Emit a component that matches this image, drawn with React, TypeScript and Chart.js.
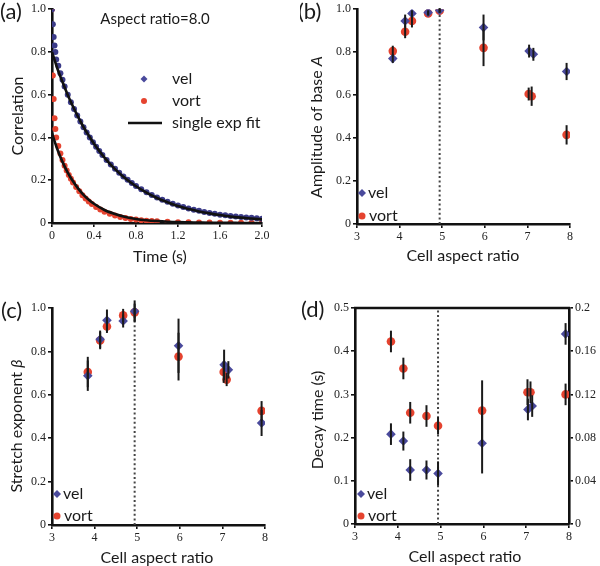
import React, { useEffect, useRef } from 'react';
import { Chart, registerables } from 'chart.js';
Chart.register(...registerables);

// ---------- Panel (a): correlation vs time ----------
const timeVel = [0, 0.008, 0.016, 0.024, 0.032, 0.04, 0.06, 0.08, 0.1, 0.12, 0.15, 0.18, 0.21, 0.24, 0.27, 0.3, 0.33, 0.36, 0.39, 0.42, 0.45, 0.48, 0.52, 0.56, 0.6, 0.64, 0.68, 0.72, 0.76, 0.8, 0.85, 0.9, 0.95, 1.0, 1.05, 1.1, 1.15, 1.2, 1.25, 1.3, 1.35, 1.4, 1.45, 1.5, 1.55, 1.6, 1.65, 1.7, 1.75, 1.8, 1.85, 1.9, 1.95, 2.0];
const corrVel = [1.0, 0.93, 0.87, 0.83, 0.8, 0.765, 0.735, 0.7, 0.67, 0.638, 0.6, 0.565, 0.533, 0.503, 0.475, 0.448, 0.423, 0.4, 0.378, 0.357, 0.337, 0.318, 0.295, 0.274, 0.254, 0.235, 0.218, 0.202, 0.187, 0.173, 0.158, 0.144, 0.131, 0.119, 0.109, 0.099, 0.09, 0.082, 0.075, 0.068, 0.062, 0.057, 0.052, 0.047, 0.043, 0.039, 0.036, 0.033, 0.03, 0.028, 0.026, 0.024, 0.022, 0.02];
const timeVort = [0, 0.008, 0.016, 0.024, 0.032, 0.04, 0.06, 0.08, 0.1, 0.12, 0.14, 0.16, 0.18, 0.2, 0.23, 0.26, 0.29, 0.32, 0.35, 0.38, 0.42, 0.46, 0.5, 0.55, 0.6, 0.65, 0.7, 0.75, 0.8, 0.85, 0.9, 0.95, 1.0, 1.1, 1.2, 1.3, 1.4, 1.5, 1.6, 1.7, 1.8, 1.9, 2.0];
const corrVort = [1.0, 0.69, 0.58, 0.49, 0.44, 0.4, 0.36, 0.325, 0.295, 0.268, 0.245, 0.225, 0.207, 0.19, 0.168, 0.148, 0.13, 0.115, 0.101, 0.089, 0.075, 0.063, 0.053, 0.043, 0.035, 0.028, 0.023, 0.019, 0.016, 0.013, 0.011, 0.009, 0.008, 0.006, 0.004, 0.003, 0.002, 0.002, 0.001, 0.001, 0.001, 0.001, 0.001];
const fitTime = [0, 0.05, 0.1, 0.15, 0.2, 0.25, 0.3, 0.35, 0.4, 0.5, 0.6, 0.7, 0.8, 0.9, 1.0, 1.1, 1.2, 1.3, 1.4, 1.5, 1.6, 1.7, 1.8, 1.9, 2.0];
const fitVel = [0.8, 0.724, 0.66, 0.599, 0.545, 0.495, 0.449, 0.409, 0.371, 0.306, 0.252, 0.208, 0.172, 0.142, 0.117, 0.097, 0.079, 0.066, 0.054, 0.045, 0.037, 0.03, 0.025, 0.021, 0.017];
const fitVort = [0.42, 0.346, 0.286, 0.236, 0.195, 0.161, 0.132, 0.109, 0.09, 0.061, 0.042, 0.028, 0.019, 0.013, 0.009, 0.006, 0.004, 0.003, 0.002, 0.001, 0.001, 0.001, 0.0, 0.0, 0.0];
const timeTicks = [0, 0.4, 0.8, 1.2, 1.6, 2.0];
const timeTickLabels = ['0', '0.4', '0.8', '1.2', '1.6', '2.0'];
const unitTicks = [0, 0.2, 0.4, 0.6, 0.8, 1.0];
const unitTickLabels = ['0', '0.2', '0.4', '0.6', '0.8', '1.0'];

// ---------- Panels (b)-(d): vs cell aspect ratio ----------
const aspectVel = [3.84, 4.13, 4.29, 4.67, 4.94, 5.97, 7.04, 7.14, 7.92];
const aspectVort = [3.84, 4.13, 4.29, 4.67, 4.94, 5.97, 7.03, 7.1, 7.92];
const aspectTicks = [3, 4, 5, 6, 7, 8];
const aspectTickLabels = ['3', '4', '5', '6', '7', '8'];
const transitionAspect = 4.94;

const ampVel = [0.77, 0.945, 0.98, 0.985, 0.995, 0.915, 0.805, 0.79, 0.71];
const ampVelErr = [0.02, 0.03, 0.015, 0.01, 0.01, 0.06, 0.03, 0.03, 0.04];
const ampVort = [0.805, 0.895, 0.945, 0.98, 0.993, 0.82, 0.605, 0.595, 0.415];
const ampVortErr = [0.025, 0.03, 0.03, 0.01, 0.01, 0.085, 0.03, 0.045, 0.045];

const betaVel = [0.688, 0.856, 0.943, 0.94, 0.985, 0.826, 0.738, 0.715, 0.47];
const betaVelErr = [0.07, 0.04, 0.05, 0.03, 0.05, 0.125, 0.07, 0.04, 0.06];
const betaVort = [0.705, 0.85, 0.915, 0.966, 0.98, 0.776, 0.705, 0.67, 0.526];
const betaVortErr = [0.07, 0.04, 0.03, 0.03, 0.04, 0.11, 0.05, 0.03, 0.045];

const tauVel = [0.208, 0.192, 0.125, 0.125, 0.117, 0.187, 0.265, 0.273, 0.44];
const tauVelErr = [0.025, 0.022, 0.025, 0.022, 0.028, 0.07, 0.025, 0.025, 0.025];
const tauVort = [0.169, 0.144, 0.103, 0.1, 0.091, 0.105, 0.122, 0.122, 0.12];
const tauVortErr = [0.01, 0.01, 0.01, 0.01, 0.008, 0.028, 0.012, 0.01, 0.01];
const tauTicks = [0, 0.1, 0.2, 0.3, 0.4, 0.5];
const tauTickLabels = ['0', '0.1', '0.2', '0.3', '0.4', '0.5'];
const tauRightTicks = [0, 0.04, 0.08, 0.12, 0.16, 0.2];
const tauRightTickLabels = ['0', '0.04', '0.08', '0.12', '0.16', '0.2'];

const BLUE = '#4a4a9c';
const BLUE_DARK = '#3b3b88';
const RED = '#e5432f';
const INK = '#111';
const SANS = 'Lato, "Open Sans", sans-serif';
const W = 300;
const H = 283;

type Seg = { t: string; italic?: boolean };
type TextItem = { segs: Seg[]; x: number; y: number; size: number; rotate?: boolean; align?: 'left' | 'center' };
type LegendItem = { kind: 'diamond' | 'circle' | 'line'; mx: number; y: number; tx: number; label: string; r?: number };

function pts(xs: number[], ys: number[]) {
  return xs.map((x, i) => ({ x, y: ys[i] }));
}

function drawRich(ctx: CanvasRenderingContext2D, item: TextItem) {
  ctx.save();
  ctx.fillStyle = '#1a1a1a';
  ctx.textBaseline = 'middle';
  ctx.textAlign = 'left';
  const fontOf = (s: Seg) => `${s.italic ? 'italic ' : ''}${item.size}px ${SANS}`;
  let total = 0;
  for (const s of item.segs) {
    ctx.font = fontOf(s);
    total += ctx.measureText(s.t).width;
  }
  ctx.translate(item.x, item.y);
  if (item.rotate) ctx.rotate(-Math.PI / 2);
  let x = item.align === 'left' ? 0 : -total / 2;
  for (const s of item.segs) {
    ctx.font = fontOf(s);
    ctx.fillText(s.t, x, 0);
    x += ctx.measureText(s.t).width;
  }
  ctx.restore();
}

function drawMarker(ctx: CanvasRenderingContext2D, kind: string, x: number, y: number, r: number) {
  ctx.save();
  if (kind === 'diamond') {
    ctx.fillStyle = BLUE;
    ctx.beginPath();
    ctx.moveTo(x, y - r);
    ctx.lineTo(x + r, y);
    ctx.lineTo(x, y + r);
    ctx.lineTo(x - r, y);
    ctx.closePath();
    ctx.fill();
  } else if (kind === 'circle') {
    ctx.fillStyle = RED;
    ctx.beginPath();
    ctx.arc(x, y, r, 0, Math.PI * 2);
    ctx.fill();
  }
  ctx.restore();
}

type Deco = {
  vline?: number;
  box?: boolean;
  texts: TextItem[];
  legend: LegendItem[];
};

function makeDeco(cfg: Deco) {
  return {
    id: 'deco',
    beforeDatasetsDraw(chart: any) {
      if (cfg.vline == null) return;
      const ctx = chart.ctx;
      const a = chart.chartArea;
      const x = chart.scales.x.getPixelForValue(cfg.vline);
      ctx.save();
      ctx.strokeStyle = '#444';
      ctx.lineWidth = 2;
      ctx.setLineDash([2, 2.6]);
      ctx.beginPath();
      ctx.moveTo(x, a.bottom);
      ctx.lineTo(x, a.top);
      ctx.stroke();
      ctx.restore();
    },
    afterDatasetsDraw(chart: any) {
      const ctx = chart.ctx;
      chart.data.datasets.forEach((ds: any) => {
        if (!ds.errorBars) return;
        const xs = chart.scales[ds.xAxisID || 'x'];
        const ys = chart.scales[ds.yAxisID || 'y'];
        ctx.save();
        ctx.strokeStyle = '#1a1a1a';
        ctx.lineWidth = 2;
        ds.data.forEach((p: any, i: number) => {
          const e = ds.errorBars[i];
          const px = xs.getPixelForValue(p.x);
          ctx.beginPath();
          ctx.moveTo(px, ys.getPixelForValue(p.y - e));
          ctx.lineTo(px, ys.getPixelForValue(p.y + e));
          ctx.stroke();
        });
        ctx.restore();
      });
    },
    afterDraw(chart: any) {
      const ctx = chart.ctx;
      const a = chart.chartArea;
      if (cfg.box) {
        ctx.save();
        ctx.strokeStyle = INK;
        ctx.lineWidth = 2.5;
        ctx.beginPath();
        ctx.moveTo(a.left - 1, a.top);
        ctx.lineTo(a.right + 1, a.top);
        ctx.stroke();
        ctx.restore();
      }
      for (const l of cfg.legend) {
        if (l.kind === 'line') {
          ctx.save();
          ctx.strokeStyle = INK;
          ctx.lineWidth = 2.5;
          ctx.beginPath();
          ctx.moveTo(l.mx - 17, l.y);
          ctx.lineTo(l.mx + 17, l.y);
          ctx.stroke();
          ctx.restore();
        } else {
          drawMarker(ctx, l.kind, l.mx, l.y, l.r || 4);
        }
        drawRich(ctx, { segs: [{ t: l.label }], x: l.tx, y: l.y, size: 16, align: 'left' });
      }
      for (const t of cfg.texts) drawRich(ctx, t);
    },
  };
}

function axis(min: number, max: number, ticks: number[], labels: string[], size: number, horizontal: boolean, position?: string) {
  return {
    type: 'linear',
    position,
    min,
    max,
    border: { display: true, color: INK, width: 2.6 },
    grid: { display: true, drawOnChartArea: false, drawTicks: true, tickLength: 4, color: INK, lineWidth: 1.6 },
    ticks: {
      autoSkip: false,
      maxRotation: 0,
      padding: 2,
      color: '#222',
      font: { family: '"Liberation Serif", serif', size: 12 },
      callback: (_v: any, i: number) => labels[i],
    },
    afterBuildTicks: (s: any) => {
      s.ticks = ticks.map((v) => ({ value: v }));
    },
    afterFit: (s: any) => {
      if (horizontal) s.height = size;
      else s.width = size;
    },
  };
}

function baseOptions(area: { l: number; t: number; r: number; b: number }, scales: any) {
  return {
    animation: false,
    responsive: false,
    maintainAspectRatio: false,
    events: [],
    layout: { padding: { left: 0, top: area.t, right: scales.y1 ? 0 : W - area.r, bottom: 0 } },
    plugins: { legend: { display: false }, tooltip: { enabled: false }, title: { display: false } },
    scales,
  };
}

function errSet(label: string, xs: number[], ys: number[], errs: number[], color: string, style: string, r: number, yAxisID = 'y') {
  return {
    label,
    data: pts(xs, ys),
    errorBars: errs,
    yAxisID,
    showLine: false,
    backgroundColor: color,
    borderColor: color,
    borderWidth: 0,
    pointStyle: style,
    pointRadius: r,
  };
}

function configA() {
  const area = { l: 52, t: 9, r: 262, b: 223 };
  return {
    type: 'scatter',
    data: {
      datasets: [
        { label: 'fit vel', data: pts(fitTime, fitVel), showLine: true, borderColor: INK, borderWidth: 2.6, pointRadius: 0, cubicInterpolationMode: 'monotone' },
        { label: 'fit vort', data: pts(fitTime, fitVort), showLine: true, borderColor: INK, borderWidth: 2.6, pointRadius: 0, cubicInterpolationMode: 'monotone' },
        { label: 'vel', data: pts(timeVel, corrVel), showLine: false, backgroundColor: BLUE_DARK, borderWidth: 0, pointRadius: 3 },
        { label: 'vort', data: pts(timeVort, corrVort), showLine: false, backgroundColor: RED, borderWidth: 0, pointRadius: 3 },
      ],
    },
    options: baseOptions(area, {
      x: axis(0, 2, timeTicks, timeTickLabels, H - area.b, true),
      y: axis(0, 1, unitTicks, unitTickLabels, area.l, false),
    }),
    plugins: [
      makeDeco({
        texts: [
          { segs: [{ t: 'Correlation' }], x: 18, y: 116, size: 16, rotate: true },
          { segs: [{ t: 'Time (s)' }], x: 160, y: 257, size: 16 },
          { segs: [{ t: 'Aspect ratio=8.0' }], x: 155, y: 19, size: 15 },
          { segs: [{ t: '(a)' }], x: 0, y: 12, size: 22, align: 'left' },
        ],
        legend: [
          { kind: 'diamond', mx: 144, y: 79, tx: 172, label: 'vel', r: 3.5 },
          { kind: 'circle', mx: 144, y: 101, tx: 172, label: 'vort', r: 3 },
          { kind: 'line', mx: 145, y: 123, tx: 172, label: 'single exp fit' },
        ],
      }),
    ],
  };
}

function ratioLegend(mx: number, y1: number, y2: number) {
  return [
    { kind: 'diamond', mx, y: y1, tx: mx + 6, label: 'vel', r: 4 },
    { kind: 'circle', mx, y: y2, tx: mx + 7, label: 'vort', r: 3.5 },
  ] as LegendItem[];
}

function configB() {
  const area = { l: 57, t: 9, r: 270, b: 224 };
  return {
    type: 'scatter',
    data: {
      datasets: [
        errSet('vel', aspectVel, ampVel, ampVelErr, BLUE, 'rectRot', 4.8),
        errSet('vort', aspectVort, ampVort, ampVortErr, RED, 'circle', 4.3),
      ],
    },
    options: baseOptions(area, {
      x: axis(3, 8, aspectTicks, aspectTickLabels, H - area.b, true),
      y: axis(0, 1, unitTicks, unitTickLabels, area.l, false),
    }),
    plugins: [
      makeDeco({
        vline: transitionAspect,
        texts: [
          { segs: [{ t: 'Amplitude of base ' }, { t: 'A', italic: true }], x: 17, y: 127, size: 16, rotate: true },
          { segs: [{ t: 'Cell aspect ratio' }], x: 163, y: 256, size: 16 },
          { segs: [{ t: '(b)' }], x: -2, y: 12, size: 22, align: 'left' },
        ],
        legend: ratioLegend(62, 193, 216),
      }),
    ],
  };
}

function configC() {
  const area = { l: 52, t: 25, r: 265, b: 242 };
  return {
    type: 'scatter',
    data: {
      datasets: [
        errSet('vel', aspectVel, betaVel, betaVelErr, BLUE, 'rectRot', 4.8),
        errSet('vort', aspectVort, betaVort, betaVortErr, RED, 'circle', 4.3),
      ],
    },
    options: baseOptions(area, {
      x: axis(3, 8, aspectTicks, aspectTickLabels, H - area.b, true),
      y: axis(0, 1, unitTicks, unitTickLabels, area.l, false),
    }),
    plugins: [
      makeDeco({
        vline: transitionAspect,
        texts: [
          { segs: [{ t: 'Stretch exponent ' }, { t: 'β', italic: true }], x: 17, y: 143, size: 16, rotate: true },
          { segs: [{ t: 'Cell aspect ratio' }], x: 157, y: 275, size: 16 },
          { segs: [{ t: '(c)' }], x: 1, y: 28, size: 22, align: 'left' },
        ],
        legend: ratioLegend(57, 211, 233),
      }),
    ],
  };
}

function configD() {
  const area = { l: 55, t: 25, r: 269, b: 241 };
  return {
    type: 'scatter',
    data: {
      datasets: [
        errSet('vel', aspectVel, tauVel, tauVelErr, BLUE, 'rectRot', 4.8, 'y'),
        errSet('vort', aspectVort, tauVort, tauVortErr, RED, 'circle', 4.3, 'y1'),
      ],
    },
    options: baseOptions(area, {
      x: axis(3, 8, aspectTicks, aspectTickLabels, H - area.b, true),
      y: axis(0, 0.5, tauTicks, tauTickLabels, area.l, false, 'left'),
      y1: axis(0, 0.2, tauRightTicks, tauRightTickLabels, W - area.r, false, 'right'),
    }),
    plugins: [
      makeDeco({
        vline: transitionAspect,
        box: true,
        texts: [
          { segs: [{ t: 'Decay time (s)' }], x: 18, y: 137, size: 16, rotate: true },
          { segs: [{ t: 'Cell aspect ratio' }], x: 165, y: 274, size: 16 },
          { segs: [{ t: '(d)' }], x: 1, y: 27, size: 22, align: 'left' },
        ],
        legend: ratioLegend(61, 211, 233),
      }),
    ],
  };
}

function Panel({ make, left, top }: { make: () => any; left: number; top: number }) {
  const ref = useRef<HTMLCanvasElement | null>(null);
  useEffect(() => {
    if (!ref.current) return;
    const chart = new Chart(ref.current, make());
    return () => chart.destroy();
  }, [make]);
  return (
    <canvas
      ref={ref}
      width={W}
      height={H}
      style={{ position: 'absolute', left, top, width: W, height: H }}
    />
  );
}

export default function App() {
  return (
    <div style={{ position: 'absolute', left: 0, top: 0, width: 600, height: 566, background: '#fff', overflow: 'hidden' }}>
      <Panel make={configA} left={0} top={0} />
      <Panel make={configB} left={300} top={0} />
      <Panel make={configC} left={0} top={283} />
      <Panel make={configD} left={300} top={283} />
    </div>
  );
}
